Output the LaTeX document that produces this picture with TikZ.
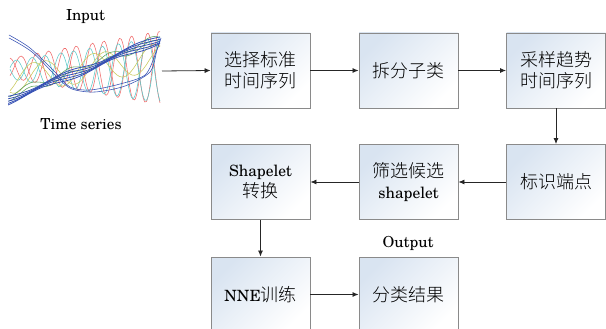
\documentclass[tikz,border=0pt]{standalone}
\usepackage{fontspec}
\setmainfont{texgyreschola}[Extension=.otf, UprightFont=*-regular, BoldFont=*-bold, ItalicFont=*-italic, BoldItalicFont=*-bolditalic]
\newfontfamily\cjk{Noto Sans CJK SC Light}
\newcommand\latsz{\fontsize{15.5}{21}\selectfont}
\usetikzlibrary{arrows.meta}
\definecolor{boxline}{HTML}{8A8A8A}
\definecolor{boxfill}{HTML}{D9E4F1}
\definecolor{tsred}{HTML}{F06A6A}
\definecolor{tscyan}{HTML}{5CCACA}
\definecolor{tsyellow}{HTML}{C9C95A}
\definecolor{tsgreen}{HTML}{5AA05A}
\definecolor{tsblue}{HTML}{3550B4}
\tikzset{
  stepbox/.style={draw=boxline, line width=0.9pt, minimum width=99pt, minimum height=75pt,
    inner sep=0pt, top color=boxfill, bottom color=white, shading angle=45,
    align=center, font=\fontsize{18}{21}\selectfont},
  flow/.style={draw=black!85, line width=0.8pt, -{Latex[length=6pt,width=5pt]}},
  lbl/.style={font=\fontsize{15.2}{21}\selectfont},
  ts/.style={line width=0.55pt, smooth},
}
\begin{document}
\begin{tikzpicture}[x=1pt,y=-1pt]
\clip (0,0) rectangle (606,329);
\fill[white] (0,0) rectangle (606,329);
% time series chart
\begin{scope}
\clip (8,30) rectangle (163,110);
\foreach \p in {0,150} {
  \draw[ts, tsred, domain=10:160, samples=90] plot (\x, {68 + (10+0.18*(\x-10))*sin(13*\x+\p)});
}
\foreach \p in {70,230} {
  \draw[ts, tscyan, domain=10:160, samples=90] plot (\x, {70 + (9+0.16*(\x-10))*sin(12.5*\x+\p)});
}
\foreach \p in {0,70} {
  \draw[ts, tsyellow, domain=10:160, samples=60] plot (\x, {80 - 0.15*(\x-10) + 14*sin(6*\x+\p)});
}
\foreach \d in {-2,2} {
  \draw[ts, tsgreen, domain=9:158, samples=60] plot (\x, {96+\d - 0.38*(\x-9) + 3*sin(9*\x)});
}
\foreach \d in {-3,-1.5,0,1.5,3} {
  \draw[ts, tsblue, line width=0.8pt, domain=8:160, samples=50] plot (\x, {100+\d - 0.40*(\x-8) + 2*sin(5*\x+20*\d)});
}
\draw[ts, tsblue] plot coordinates {(9,35) (30,48) (55,72) (70,87) (90,90) (120,84) (145,75) (155,55) (160,40)};
\draw[ts, tsblue] plot coordinates {(9,38) (32,52) (58,78) (72,89) (95,92) (125,86) (150,72) (157,50) (161,38)};
\end{scope}
\node[lbl] (in) at (85.5,17) {Input};
\node[lbl] (tsl) at (81,124) {Time series};
\node[lbl] (out) at (408,243) {Output};
\coordinate (tsout) at (162,71);
% boxes
\node[stepbox] (b1) at (260.5,70.5) {{\cjk 选择标准}\\{\cjk 时间序列}};
\node[stepbox] (b2) at (408.5,70.5) {{\cjk 拆分子类}};
\node[stepbox] (b3) at (556,70.5) {{\cjk 采样趋势}\\{\cjk 时间序列}};
\node[stepbox] (b4) at (556,182) {{\cjk 标识端点}};
\node[stepbox] (b5) at (408.5,182) {{\cjk 筛选候选}\\{\latsz shapelet}};
\node[stepbox] (b6) at (260.5,182) {{\latsz Shapelet}\\{\cjk 转换}};
\node[stepbox] (b7) at (260.5,294.5) {{\latsz NNE}{\cjk 训练}};
\node[stepbox] (b8) at (408.5,294.5) {{\cjk 分类结果}};
% connectors
\draw[flow] (tsout) -- (b1.west);
\draw[flow] (b1) -- (b2);
\draw[flow] (b2) -- (b3);
\draw[flow] (b3) -- (b4);
\draw[flow] (b4) -- (b5);
\draw[flow] (b5) -- (b6);
\draw[flow] (b6) -- (b7);
\draw[flow] (b7) -- (b8);
\end{tikzpicture}
\end{document}
